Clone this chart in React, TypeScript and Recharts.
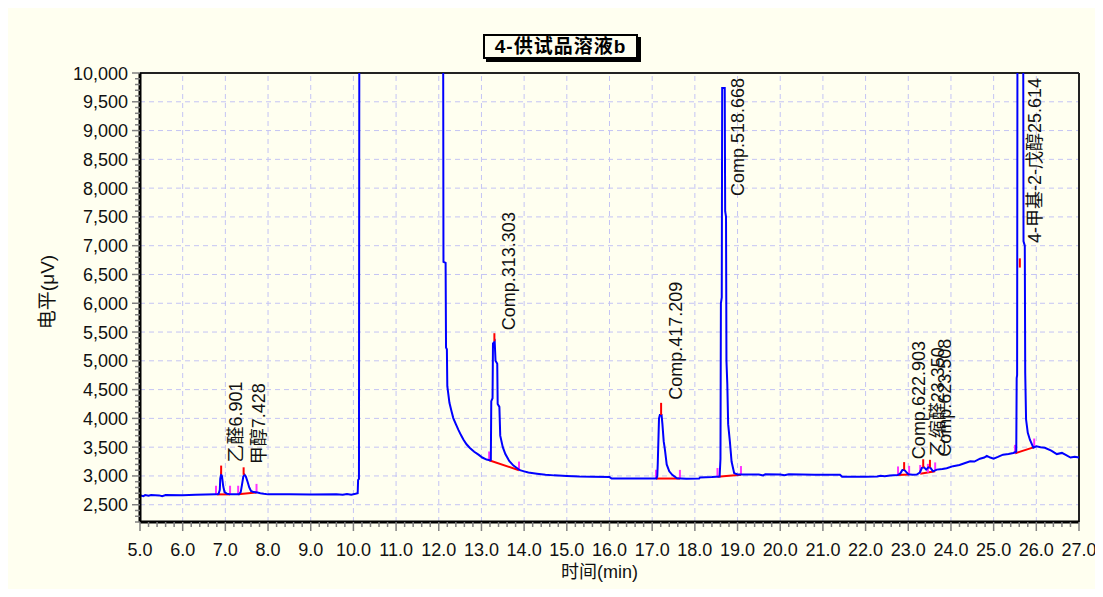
import React from 'react'
import { LineChart, Line, XAxis, YAxis, ReferenceLine, ReferenceDot } from 'recharts'

type Pt = [number, number]

// time (min) / signal (µV), split by region
const startTrace: Pt[] = [
  [5.0, 2665], [5.08, 2650], [5.12, 2668], [5.2, 2655], [5.26, 2670], [5.45, 2662],
  [5.52, 2648], [5.6, 2668], [6.0, 2665], [6.3, 2672], [6.78, 2680], [6.84, 2685],
]
const aldehydeTrace: Pt[] = [
  [6.87, 2760], [6.88, 2950], [6.9, 3030], [6.92, 3000], [6.95, 2820], [6.98, 2720],
  [7.04, 2690], [7.12, 2680], [7.32, 2682], [7.36, 2720], [7.39, 2850], [7.42, 2990],
  [7.45, 3020], [7.48, 2990], [7.52, 2900], [7.56, 2800], [7.6, 2740], [7.66, 2720],
  [7.75, 2712], [7.82, 2700], [7.9, 2690], [8.0, 2680], [8.5, 2680], [9.0, 2678],
  [9.6, 2680], [9.75, 2672], [9.85, 2688], [9.95, 2675], [10.05, 2690], [10.1, 2700],
]
const solventTrace: Pt[] = [
  [10.11, 2930], [10.13, 2950], [10.14, 12000], [12.1, 12000], [12.11, 6720], [12.16, 6700],
  [12.17, 5230], [12.19, 5200], [12.2, 4560], [12.25, 4270], [12.3, 4120], [12.34, 4005],
  [12.4, 3900], [12.46, 3800], [12.52, 3710], [12.58, 3630], [12.65, 3550], [12.73, 3485],
  [12.83, 3420], [12.93, 3370], [13.02, 3320], [13.12, 3285], [13.21, 3270],
]
const comp3Trace: Pt[] = [
  [13.22, 3280], [13.23, 4300], [13.26, 4350], [13.27, 5300], [13.31, 5340], [13.33, 5000],
  [13.37, 4950], [13.38, 4250], [13.42, 4200], [13.44, 3700], [13.5, 3500], [13.56, 3380],
  [13.65, 3260], [13.75, 3180], [13.9, 3100], [14.0, 3080], [14.1, 3060], [14.3, 3040],
  [14.5, 3020], [14.7, 3010], [15.0, 3000], [15.3, 2990], [15.6, 2985], [16.0, 2980],
  [16.05, 2955], [16.5, 2955], [17.0, 2955], [17.1, 2955],
]
const comp4Trace: Pt[] = [
  [17.12, 3000], [17.13, 3200], [17.16, 4000], [17.18, 4060], [17.22, 4060], [17.24, 3900],
  [17.27, 3600], [17.3, 3450], [17.34, 3200], [17.4, 3080], [17.47, 3020], [17.58, 2960],
  [17.8, 2950], [18.1, 2955], [18.12, 2975], [18.4, 2980], [18.58, 2990],
]
const comp5Trace: Pt[] = [
  [18.6, 3300], [18.61, 6000], [18.63, 6100], [18.64, 9740], [18.7, 9740], [18.71, 7600],
  [18.73, 7500], [18.74, 5000], [18.76, 4600], [18.78, 3900], [18.82, 3600], [18.86, 3250],
  [18.92, 3050], [19.0, 3025],
]
const middleTrace: Pt[] = [
  [19.5, 3025], [19.6, 3010], [19.65, 3030], [20.0, 3025], [20.1, 3012], [20.2, 3028],
  [20.8, 3022], [21.4, 3022], [21.45, 2985], [22.0, 2985], [22.27, 2990], [22.35, 3005],
  [22.45, 2995], [22.57, 3008], [22.75, 3015],
]
const lateTrace: Pt[] = [
  [22.81, 3040], [22.86, 3100], [22.9, 3110], [22.95, 3070], [23.0, 3030], [23.1, 3020],
  [23.2, 3025], [23.27, 3060], [23.32, 3140], [23.37, 3150], [23.42, 3110], [23.47, 3150],
  [23.52, 3140], [23.58, 3080], [23.67, 3110], [23.8, 3120], [23.9, 3135], [24.05, 3170],
  [24.2, 3190], [24.3, 3215], [24.45, 3255], [24.55, 3250], [24.68, 3300], [24.78, 3320],
  [24.84, 3350], [24.92, 3320], [25.0, 3300], [25.1, 3330], [25.22, 3370], [25.35, 3380],
  [25.46, 3400], [25.53, 3420],
]
const pentanolTrace: Pt[] = [
  [25.54, 4700], [25.55, 4750], [25.56, 12000], [25.69, 12000], [25.7, 7075], [25.73, 7000],
  [25.74, 4790], [25.76, 3980], [25.8, 3750], [25.85, 3630], [25.93, 3490], [26.0, 3515],
  [26.1, 3500], [26.2, 3490], [26.35, 3440], [26.48, 3380], [26.6, 3400], [26.7, 3360],
  [26.8, 3320], [26.9, 3335], [27.0, 3320],
]

// peak name, retention time, top of red apex mark
const peakNames = ['乙醛6.901', '甲醇7.428', 'Comp.313.303', 'Comp.417.209', 'Comp.518.668',
  'Comp.622.903', '乙缩醛23.350', 'Comp.623.508', '4-甲基-2-戊醇25.614']
const peakTimes = [6.901, 7.428, 13.303, 17.209, 18.668, 22.903, 23.35, 23.508, 25.614]
const peakTops = [3180, 3150, 5480, 4270, 9740, 3240, 3290, 3280, 10000]

// red apex marks: [time, from, to]
const apexMarks: [number, number, number][] = [
  [6.901, 3030, 3180], [7.428, 3020, 3150], [13.303, 5340, 5480], [17.209, 4060, 4270],
  [22.903, 3110, 3240], [23.35, 3150, 3290], [23.508, 3150, 3280], [25.614, 6620, 6780],
]
// magenta peak start/end marks: [time, level]
const boundMarks: Pt[] = [
  [6.78, 2680], [7.11, 2680], [7.3, 2680], [7.73, 2712], [13.18, 3275], [13.88, 3100],
  [17.09, 2958], [17.65, 2955], [18.53, 2988], [19.08, 3022], [22.76, 3015], [23.02, 3025],
  [23.28, 3040], [23.46, 3060], [23.63, 3085], [25.5, 3390], [25.95, 3500],
]
// red integration baselines: [t0, y0, t1, y1]
const baselines: [number, number, number, number][] = [
  [6.8, 2680, 7.11, 2680], [7.3, 2680, 7.73, 2712], [13.18, 3272, 13.88, 3100],
  [17.09, 2955, 17.65, 2955], [18.53, 2988, 19.08, 3020], [22.76, 3015, 23.02, 3025],
  [23.28, 3038, 23.63, 3082], [25.5, 3392, 25.95, 3500],
]

const xMajor = [6, 7, 8, 9, 10, 11, 12, 13, 14, 15, 16, 17, 18, 19, 20, 21, 22, 23, 24, 25, 26]
const yMajor = [2500, 3000, 3500, 4000, 4500, 5000, 5500, 6000, 6500, 7000, 7500, 8000, 8500, 9000, 9500]
const xTicks = Array.from({ length: 111 }, (_, i) => Math.round((5 + i * 0.2) * 10) / 10)
const yTicks = Array.from({ length: 79 }, (_, i) => 2200 + i * 100)

const trace = [
  ...startTrace, ...aldehydeTrace, ...solventTrace, ...comp3Trace, ...comp4Trace,
  ...comp5Trace, ...middleTrace, ...lateTrace, ...pentanolTrace,
].map(([t, v]) => ({ t, v }))

const FONT = "'Liberation Sans', Arial, 'Noto Sans CJK SC', sans-serif"
const PLOT_TOP = 65
const GRID = '#C4C4F4'

const textWidth = (s: string, size: number) =>
  [...s].reduce((w, c) => {
    if (/[\u4e00-\u9fff]/.test(c)) return w + 1
    if (c === '.') return w + 0.278
    if (c === '-') return w + 0.333
    if (c === 'C') return w + 0.722
    if (c === 'm') return w + 0.833
    return w + 0.556
  }, 0) * size

const XTick = ({ x, y, payload }: any) => {
  const v = payload.value
  const major = Math.abs(v - Math.round(v)) < 1e-6
  return (
    <g>
      <line x1={x} x2={x} y1={y} y2={y + (major ? 9 : 5)} stroke="#808080" strokeWidth={1.5} />
      {major && (
        <text x={x} y={y + 34} textAnchor="middle" fontSize={18} fill="#111" fontFamily={FONT}>
          {v.toFixed(1)}
        </text>
      )}
    </g>
  )
}

const YTick = ({ x, y, payload }: any) => {
  const v = payload.value
  const major = v % 500 === 0
  return (
    <g>
      <line x1={x - (major ? 8 : 5)} x2={x} y1={y} y2={y} stroke="#808080" strokeWidth={1.5} />
      {major && (
        <text x={x - 12} y={y + 6.5} textAnchor="end" fontSize={18} fill="#111" fontFamily={FONT}>
          {v.toLocaleString('en-US')}
        </text>
      )}
    </g>
  )
}

const PeakLabel = ({ viewBox, text }: any) => {
  const cx = viewBox.x + 15
  const len = textWidth(text, 18)
  const bottom = Math.max(viewBox.y - 3, PLOT_TOP + 5 + len)
  return (
    <text
      transform={`translate(${cx},${bottom}) rotate(-90)`}
      dominantBaseline="central"
      fontSize={18}
      fill="#111"
      fontFamily={FONT}
    >
      {text}
    </text>
  )
}

export default function App() {
  return (
    <div style={{ position: 'relative', width: 1087, height: 581, background: '#FFFFF0' }}>
      <style>{'svg.recharts-surface { overflow: visible; }'}</style>
      <LineChart
        width={1087}
        height={581}
        data={trace}
        margin={{ top: PLOT_TOP, right: 16, bottom: 27, left: 52 }}
      >
        <XAxis
          type="number"
          dataKey="t"
          domain={[5, 27]}
          ticks={xTicks}
          interval={0}
          tick={<XTick />}
          tickLine={false}
          tickSize={0}
          tickMargin={0}
          axisLine={{ stroke: '#000', strokeWidth: 3 }}
          height={40}
          label={(p: any) => (
            <text
              x={p.viewBox.x + p.viewBox.width / 2 - 10}
              y={p.viewBox.y + 56}
              textAnchor="middle"
              fontSize={18}
              fill="#111"
              fontFamily={FONT}
            >
              时间(min)
            </text>
          )}
        />
        <YAxis
          type="number"
          domain={[2200, 10000]}
          allowDataOverflow
          ticks={yTicks}
          interval={0}
          tick={<YTick />}
          tickLine={false}
          tickSize={0}
          tickMargin={0}
          axisLine={{ stroke: '#000', strokeWidth: 3 }}
          width={80}
          label={(p: any) => (
            <text
              transform={`translate(${p.viewBox.x - 13},${p.viewBox.y + 219}) rotate(-90)`}
              textAnchor="middle"
              dominantBaseline="central"
              fontSize={19}
              fill="#111"
              fontFamily={FONT}
            >
              电平(μV)
            </text>
          )}
        />
        {xMajor.map((v) => (
          <ReferenceLine key={'gx' + v} x={v} stroke={GRID} strokeDasharray="5 4" />
        ))}
        {yMajor.map((v) => (
          <ReferenceLine key={'gy' + v} y={v} stroke={GRID} strokeDasharray="5 4" />
        ))}
        <ReferenceLine y={10000} stroke="#222" strokeWidth={2} />
        <ReferenceLine x={27} stroke="#222" strokeWidth={2} />
        {baselines.map(([t0, y0, t1, y1], i) => (
          <ReferenceLine
            key={'bl' + i}
            segment={[{ x: t0, y: y0 }, { x: t1, y: y1 }]}
            stroke="#FF0000"
            strokeWidth={2}
          />
        ))}
        {boundMarks.map(([t, y], i) => (
          <ReferenceLine
            key={'bm' + i}
            segment={[{ x: t, y }, { x: t, y: y + 150 }]}
            stroke="#FF33FF"
            strokeWidth={2}
          />
        ))}
        <Line
          type="linear"
          dataKey="v"
          stroke="#0000FF"
          strokeWidth={2}
          dot={false}
          isAnimationActive={false}
        />
        {apexMarks.map(([t, y0, y1], i) => (
          <ReferenceLine
            key={'am' + i}
            segment={[{ x: t, y: y0 }, { x: t, y: y1 }]}
            stroke="#FF0000"
            strokeWidth={2}
          />
        ))}
        {peakNames.map((name, i) => (
          <ReferenceDot
            key={'pl' + i}
            x={peakTimes[i]}
            y={peakTops[i]}
            r={0}
            stroke="none"
            fill="none"
            label={<PeakLabel text={name} />}
          />
        ))}
      </LineChart>
      <div
        style={{
          position: 'absolute',
          left: 475,
          top: 26,
          width: 155,
          height: 25,
          boxSizing: 'border-box',
          border: '2px solid #000',
          boxShadow: '3px 3px 0 #000',
          background: '#FFFFF0',
          fontFamily: FONT,
          fontWeight: 'bold',
          fontSize: 19,
          lineHeight: '21px',
          textAlign: 'center',
          letterSpacing: 1,
        }}
      >
        4-供试品溶液b
      </div>
    </div>
  )
}
